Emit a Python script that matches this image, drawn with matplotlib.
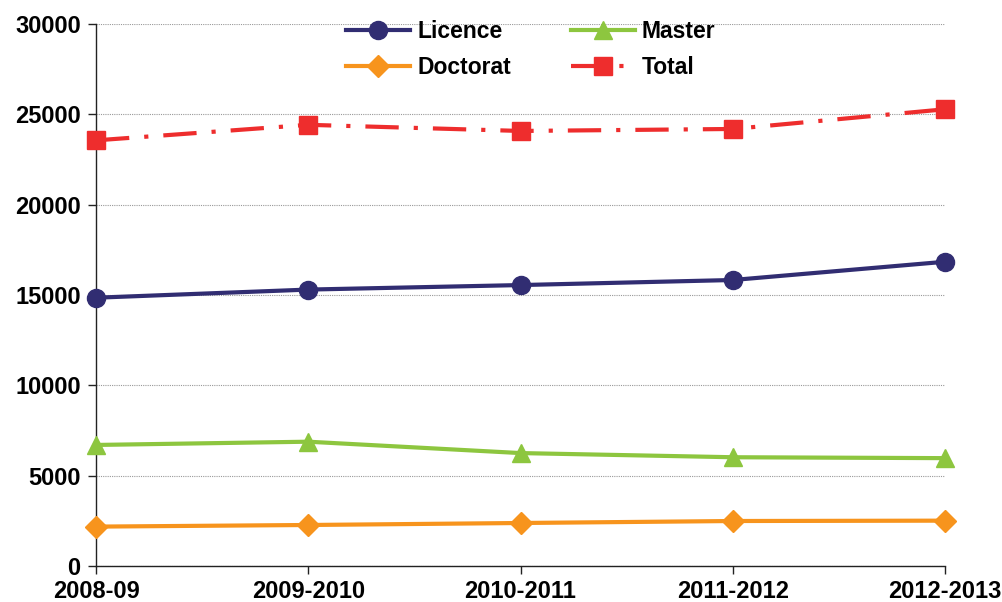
import numpy as np
import matplotlib.pyplot as plt

plt.rcParams['font.family'] = ['Liberation Sans', 'DejaVu Sans']
plt.rcParams['font.weight'] = 'bold'

# data
years = ['2008-09', '2009-2010', '2010-2011', '2011-2012', '2012-2013']
licence = [14850, 15300, 15550, 15830, 16840]
master = [6700, 6880, 6250, 6020, 5970]
doctorat = [2180, 2270, 2380, 2490, 2510]
total = [23560, 24420, 24080, 24190, 25280]

x = np.arange(len(years))

fig = plt.figure(figsize=(10.03, 6.02), dpi=100)
ax = fig.add_axes([96/1003, 1 - 566/602, (945 - 96)/1003, (566 - 24)/602])

l1, = ax.plot(x, licence, '-o', color='#312D72', lw=3, ms=13, label='Licence', clip_on=False, zorder=4)
l2, = ax.plot(x, master, '-^', color='#8DC63F', lw=3, ms=13, label='Master', clip_on=False, zorder=3)
l3, = ax.plot(x, doctorat, '-D', color='#F7941D', lw=3, ms=11, label='Doctorat', clip_on=False, zorder=3)
l4, = ax.plot(x, total, '-s', color='#EE2D2D', lw=3, ms=13, label='Total', clip_on=False, zorder=4,
              dashes=(8, 3.6, 1, 3.6))

ax.set_xlim(0, 4)
ax.set_ylim(0, 30000)
ax.set_yticks(np.arange(0, 30001, 5000))
ax.set_xticks(x)
ax.set_xticklabels(years)
ax.tick_params(axis='both', labelsize=17, length=6, width=1, color='#222222', direction='out')
ax.tick_params(axis='x', pad=4)
ax.tick_params(axis='y', pad=5)

ax.yaxis.grid(True, linestyle=(0, (1, 1)), color='#999999', lw=0.8)
ax.set_axisbelow(True)
for s in ['top', 'right']:
    ax.spines[s].set_visible(False)
for s in ['left', 'bottom']:
    ax.spines[s].set_color('#222222')
    ax.spines[s].set_linewidth(1)

# row-wise order like the original: Licence, Master / Doctorat, Total
ax.legend([l1, l3, l2, l4], ['Licence', 'Doctorat', 'Master', 'Total'],
          loc='upper center', bbox_to_anchor=(0.512, 1.045), ncol=2, frameon=False,
          fontsize=16.5, handlelength=2.8, handletextpad=0.3, columnspacing=2.6,
          labelspacing=0.55)

fig.savefig('out.png', dpi=100)
